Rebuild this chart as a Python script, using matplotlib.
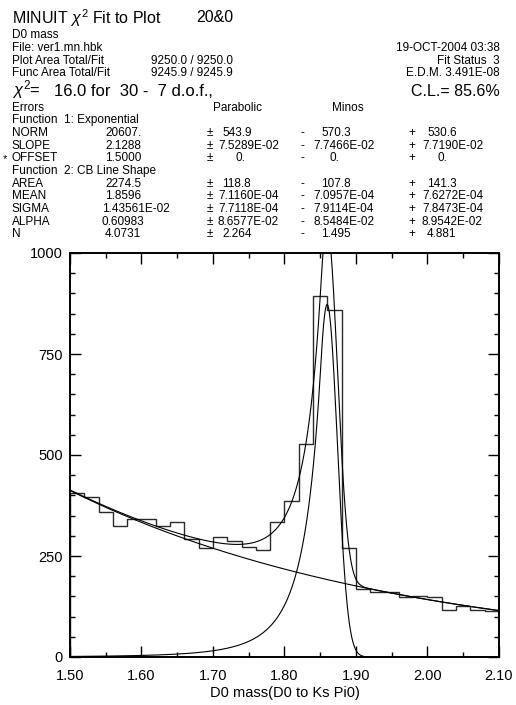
import numpy as np
import matplotlib.pyplot as plt
from math import erf, sqrt, pi

plt.rcParams['font.family'] = ['Liberation Sans', 'DejaVu Sans']
plt.rcParams['mathtext.fontset'] = 'custom'
plt.rcParams['mathtext.rm'] = 'Liberation Sans'
plt.rcParams['mathtext.it'] = 'Liberation Sans:italic'

# histogram: 30 bins of D0 mass, 1.50 - 2.10
bin_edges = np.linspace(1.50, 2.10, 31)
counts = [405, 397, 359, 324, 341, 341, 325, 335, 292, 269,
          297, 286, 273, 266, 334, 385, 526, 894, 859, 271,
          168, 161, 160, 149, 151, 149, 117, 126, 116, 114]

# fit parameters from the MINUIT box
norm, slope, offset = 20607., 2.1288, 1.5000
area, mean, sigma, alpha, n_cb = 2274.5, 1.8596, 1.43561e-02, 0.60983, 4.0731
bin_w = 0.02

# parameter table rows: name, value, parabolic, minos -, minos +
par_rows = [
    ("NORM", "20607.", "543.9", "570.3", "530.6"),
    ("SLOPE", "2.1288", "7.5289E-02", "7.7466E-02", "7.7190E-02"),
    ("OFFSET", "1.5000", "0.", "0.", "0."),
    ("AREA", "2274.5", "118.8", "107.8", "141.3"),
    ("MEAN", "1.8596", "7.1160E-04", "7.0957E-04", "7.6272E-04"),
    ("SIGMA", "1.43561E-02", "7.7118E-04", "7.9114E-04", "7.8473E-04"),
    ("ALPHA", "0.60983", "8.6577E-02", "8.5484E-02", "8.9542E-02"),
    ("N", "4.0731", "2.264", "1.495", "4.881"),
]


def expo(x):
    return norm * bin_w * np.exp(-slope * (x - offset))


def crystal_ball(x):
    t = (x - mean) / sigma
    A = (n_cb / alpha) ** n_cb * np.exp(-alpha ** 2 / 2)
    B = n_cb / alpha - alpha
    C = n_cb / alpha / (n_cb - 1) * np.exp(-alpha ** 2 / 2)
    D = sqrt(pi / 2) * (1 + erf(alpha / sqrt(2)))
    N = 1.0 / (sigma * (C + D))
    y = np.where(t > -alpha, np.exp(-0.5 * t ** 2),
                 A * np.abs(B - t) ** (-n_cb))
    return area * bin_w * N * y


W, H = 516, 705
fig = plt.figure(figsize=(W / 100, H / 100), dpi=100)


def put(x, y, s, size=8.5, ha='left'):
    fig.text(x / W, 1 - y / H, s, fontsize=size, ha=ha, va='center')


def col(s, x_e, short_off, zero_off):
    # fixed-width fortran style columns: short numbers sit a bit to the right
    if s == "0.":
        return x_e + zero_off
    if "E" in s:
        return x_e
    return x_e + short_off


# header
put(12, 18, r"MINUIT $\chi^2$ Fit to Plot", 11.5)
put(196, 18, "20&0", 11.5)
put(12, 35, "D0 mass")
put(12, 48, "File: ver1.mn.hbk")
put(12, 61, "Plot Area Total/Fit")
put(151, 61, "9250.0 / 9250.0")
put(12, 73, "Func Area Total/Fit")
put(151, 73, "9245.9 / 9245.9")
put(500, 48, "19-OCT-2004 03:38", ha='right')
put(500, 61, "Fit Status  3", ha='right')
put(500, 73, "E.D.M. 3.491E-08", ha='right')
put(12, 90, r"$\chi^2$=", 12)
put(54, 91, "16.0 for  30 -  7 d.o.f.,", 12)
put(500, 91, "C.L.= 85.6%", 11.5, ha='right')
put(12, 108, "Errors")
put(213, 108, "Parabolic")
put(332, 108, "Minos")

y = 120.3
dy = 12.66
put(12, y, "Function  1: Exponential")
for i, (name, val, par, mneg, mpos) in enumerate(par_rows):
    if i == 3:
        y += dy
        put(12, y, "Function  2: CB Line Shape")
    y += dy
    put(12, y, name)
    if name == "OFFSET":
        put(3, y + 1, "*", 8)
    put(102 if len(val) > 6 else 105, y, val)
    put(210, y, "±", ha='center')
    put(col(par, 218, 4, 17), y, par)
    put(302, y, "-", ha='center')
    put(col(mneg, 313, 8, 17), y, mneg)
    put(412, y, "+", ha='center')
    put(col(mpos, 422, 5, 16), y, mpos)

# plot
ax = fig.add_axes([70 / W, 1 - 657 / H, 429 / W, (657 - 253) / H])
ax.stairs(counts, bin_edges, color='#2a2a2a', linewidth=1.0)

xs = np.linspace(1.50, 2.10, 1500)
bkg = expo(xs)
cb = crystal_ball(xs)
ax.plot(xs, bkg, color='black', linewidth=0.8)
ax.plot(xs, cb, color='black', linewidth=0.8)
ax.plot(xs, bkg + cb, color='black', linewidth=0.8)

ax.set_xlim(1.50, 2.10)
ax.set_ylim(0, 1000)
ax.set_xticks(np.arange(1.50, 2.101, 0.10))
ax.set_xticks(np.arange(1.55, 2.10, 0.10), minor=True)
ax.set_xticklabels([f"{v:.2f}" for v in np.arange(1.50, 2.101, 0.10)])
ax.set_yticks([0, 250, 500, 750, 1000])
ax.set_yticks(np.arange(0, 1001, 50), minor=True)
ax.tick_params(which='both', direction='in', top=True, right=True,
               width=1.0, labelsize=10.5)
ax.tick_params(which='major', length=8)
ax.tick_params(which='minor', length=3.6)
ax.tick_params(axis='x', pad=9)
ax.tick_params(axis='y', pad=5)
for s in ax.spines.values():
    s.set_linewidth(1.4)
ax.set_xlabel("D0 mass(D0 to Ks Pi0)", fontsize=10.5, labelpad=2)

fig.savefig("out.png", dpi=100)
